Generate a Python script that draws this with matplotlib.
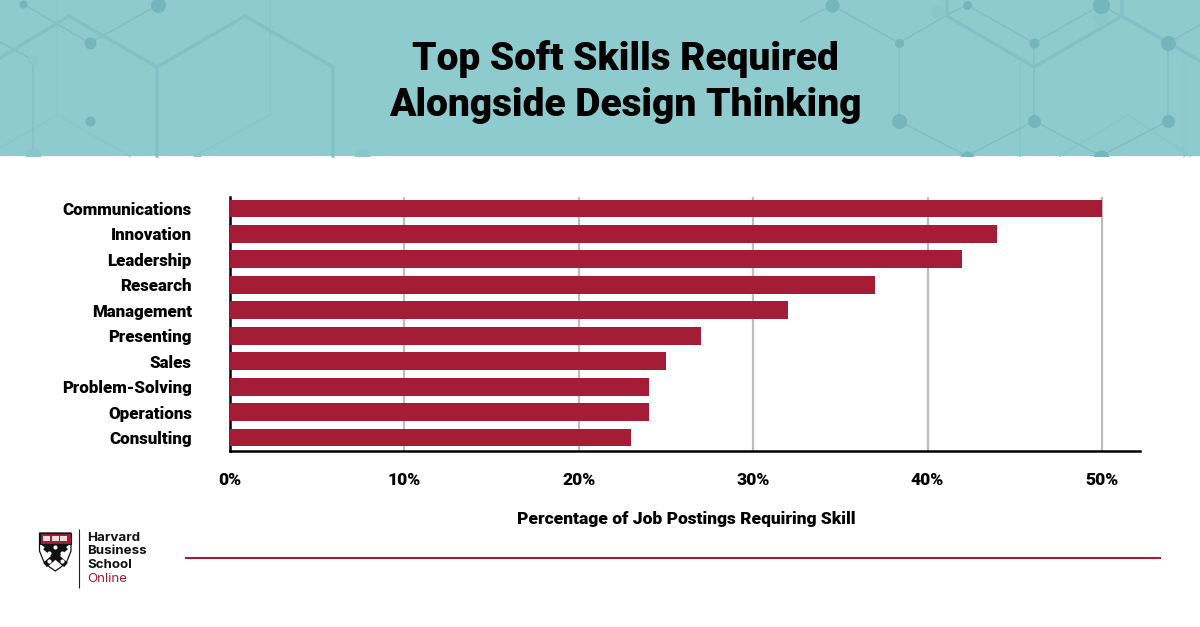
import matplotlib
matplotlib.use("Agg")
import matplotlib.pyplot as plt
from matplotlib.patches import Rectangle, Polygon

skills = ["Communications", "Innovation", "Leadership", "Research", "Management",
          "Presenting", "Sales", "Problem-Solving", "Operations", "Consulting"]
shares = [50, 44, 42, 37, 32, 27, 25, 24, 24, 23]
ticks = [0, 10, 20, 30, 40, 50]

W, H = 1200, 627
RED = "#A51C36"
TEAL = "#8DCBCE"
plt.rcParams['font.family'] = ['Roboto', 'DejaVu Sans']
fig = plt.figure(figsize=(W / 100, H / 100), dpi=100, facecolor="white")
bg = fig.add_axes([0, 0, 1, 1], zorder=0)
bg.set_xlim(0, W); bg.set_ylim(H, 0); bg.axis("off")
banner = Rectangle((0, 0), W, 156, color=TEAL, lw=0)
bg.add_patch(banner)

# decorative network in the banner
thick = [[(0, 58), (69, 16), (157, 67), (157, 156)], [(157, 67), (245, 16), (333, 67), (333, 156)],
         [(947, 0), (947, 16), (1034, 67), (1122, 16), (1122, 0)], [(1122, 16), (1200, 61)]]
faint = [[(57, 0), (57, 115), (0, 148)], [(57, 115), (130, 156)], [(270, 0), (270, 115), (195, 156)],
         [(1020, 62), (1020, 156)], [(1128, 115), (1060, 156)], [(1128, 115), (1190, 156)],
         [(1184, 60), (1184, 156)]]
thin = [[(23, 4), (90, 43), (158, 5)], [(0, 42), (33, 60), (33, 150)],
        [(800, 22), (832, 5), (899, 43), (947, 15), (967, 5), (1034, 43), (1101, 5), (1168, 43), (1200, 25)],
        [(899, 43), (899, 121), (967, 156)], [(1034, 43), (1034, 121), (967, 156)],
        [(1034, 121), (1101, 156), (1168, 121), (1168, 43)]]
dots = [(23, 4, 4), (90, 43, 6), (158, 5, 7.5), (90, 121, 5), (832, 5, 7), (899, 43, 4.5), (967, 5, 4.5),
        (1034, 43, 5), (1101, 5, 8.5), (1168, 43, 7.5), (899, 121, 7.5), (1034, 121, 6.5), (1168, 121, 6.5),
        (967, 158, 7), (1101, 158, 8)]
faint_dots = [(33, 60, 5), (33, 156, 8), (197, 156, 4), (362, 156, 8), (937, 12, 7), (1101, 17, 8)]
for seg in faint:
    bg.plot(*zip(*seg), color="#88C7CB", lw=1.4, solid_joinstyle="miter", zorder=1)
for seg in thin:
    bg.plot(*zip(*seg), color="#7CBCC2", lw=0.8, zorder=1)
for seg in thick:
    bg.plot(*zip(*seg), color="#81C1C7", lw=2.4, solid_joinstyle="miter", zorder=1)
for x, y, r in faint_dots:
    m, = bg.plot(x, y, "o", ms=r * 1.44, color="#88C7CB", mew=0, zorder=1)
    m.set_clip_path(banner)
for x, y, r in dots:
    m, = bg.plot(x, y, "o", ms=r * 1.44, color="#74B6BC", mew=0, zorder=2)
    m.set_clip_path(banner)

bg.text(625, 59, "Top Soft Skills Required", ha="center", va="center",
        fontsize=28, fontweight=900, color="black", zorder=3)
bg.text(625, 105.5, "Alongside Design Thinking", ha="center", va="center",
        fontsize=28, fontweight=900, color="black", zorder=3)

# chart axes
L, R, T, B = 230, 1140, 197, 451
ax = fig.add_axes([L / W, 1 - B / H, (R - L) / W, (B - T) / H], zorder=1)
ax.patch.set_alpha(0)
ax.set_xlim(0, (R - L) / 17.44)
ypos = list(range(len(skills)))
ax.set_ylim(9.53, -0.452)
ax.barh(ypos, shares, height=0.70, color=RED, zorder=3)
ax.set_yticks(ypos, skills, fontsize=12.2, fontweight=900)
ax.set_xticks(ticks, [f"{t}%" for t in ticks], fontsize=12.6, fontweight=900)
ax.tick_params(axis="both", length=0)
ax.tick_params(axis="y", pad=27.5)
ax.tick_params(axis="x", pad=15)
ax.grid(axis="x", color="#BDBDBD", lw=1.6, zorder=1)
ax.set_axisbelow(True)
for s in ("top", "right"):
    ax.spines[s].set_visible(False)
for s in ("left", "bottom"):
    ax.spines[s].set_linewidth(1.8)
    ax.spines[s].set_color("black")

bg.text(686, 519, "Percentage of Job Postings Requiring Skill", ha="center", va="center",
        fontsize=12.5, fontweight=900, color="black")

# footer
bg.plot([184.5, 1161], [558, 558], color=RED, lw=1.5, solid_capstyle="butt")
bg.plot([79.3, 79.3], [529, 588], color="#222222", lw=0.8, solid_capstyle="butt")
for y, t, c, w in [(538, "Harvard", "#111111", "bold"), (551.5, "Business", "#111111", "bold"),
                   (565, "School", "#111111", "bold"), (579, "Online", RED, "normal")]:
    bg.text(87, y, t, fontsize=9.6, va="center", color=c, fontweight=w, family="Inter")

# shield
shield = [(39.5, 533), (71, 533), (71, 551), (67, 561), (61, 567), (55.3, 571), (49.5, 567), (43.5, 561), (39.5, 551)]
bg.add_patch(Polygon(shield, closed=True, fc="white", ec="#111111", lw=0.9, zorder=2))
bg.add_patch(Rectangle((39.5, 533), 31.5, 10.5, fc=RED, ec="#111111", lw=0.8, zorder=3))
for bx in (43, 51.5, 60):
    bg.add_patch(Rectangle((bx, 535.5), 7, 5, fc="#E8E0E0", lw=0, zorder=4))
bg.plot([45, 66], [547, 565], color="#111111", lw=4.2, solid_capstyle="butt", zorder=3)
bg.plot([66, 45], [547, 565], color="#111111", lw=4.2, solid_capstyle="butt", zorder=3)
bg.add_patch(Polygon([(39.5, 543.5), (71, 543.5), (55.3, 555)], closed=True, fc="#111111", lw=0, zorder=2.5))
for px, py in [(55.3, 547), (49, 553), (61.5, 553), (49, 560.5), (61.5, 560.5)]:
    bg.plot(px, py, "o", ms=3, color="white", mew=0, zorder=4)

fig.savefig("out.png", dpi=100, facecolor="white")
